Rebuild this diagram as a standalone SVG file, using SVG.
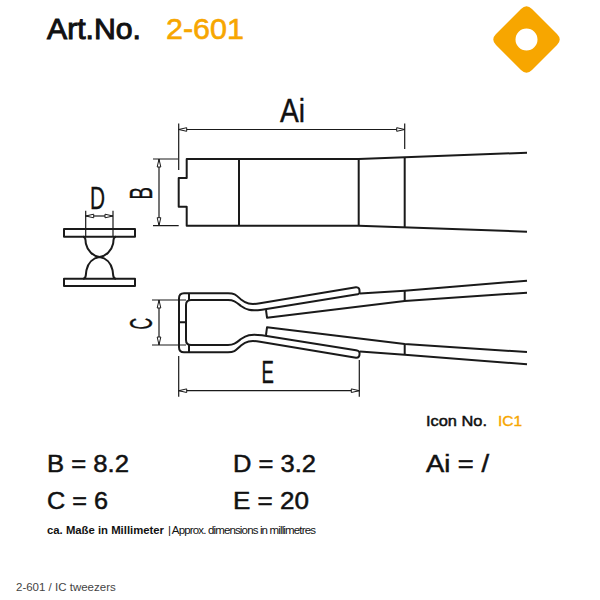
<svg xmlns="http://www.w3.org/2000/svg" width="600" height="600" viewBox="0 0 600 600">
<defs>
<marker id="ah" markerUnits="userSpaceOnUse" markerWidth="10" markerHeight="6" refX="9" refY="3" orient="auto-start-reverse"><path d="M1 1.2V4.8L9 3Z" fill="#fff" stroke="#1a1a1a" stroke-width="1"/></marker>
</defs>
<style>
text{font-family:"Liberation Sans",Arial,sans-serif;fill:#111}
.o{fill:#f7a600}
.b{font-weight:700}
.t{fill:none;stroke:#1a1a1a;stroke-width:2;stroke-linejoin:round}
.d{fill:none;stroke:#1a1a1a;stroke-width:1.2}
.v{font-size:23.500px;stroke:#111;stroke-width:.5}
.m{font-size:32px;stroke:#111;stroke-width:.4}
</style>
<rect width="600" height="600" fill="#fff"/>
<g id="header">
<text x="47" y="39" font-size="30" textLength="94" lengthAdjust="spacingAndGlyphs" style="stroke:#111;stroke-width:1">Art.No.</text>
<text class="o" x="166" y="39" font-size="30" textLength="78" lengthAdjust="spacingAndGlyphs" style="stroke:#f7a600;stroke-width:.6">2-601</text>
</g>
<g id="logo">
<path fill="#f7a600" fill-rule="evenodd" d="M521 9Q526.500 3.500 532 9L557 34Q562.500 39.500 557 45L532 70Q526.500 75.500 521 70L496 45Q490.500 39.500 496 34ZM515.500 39.500A11 11 0 1 0 537.500 39.500A11 11 0 1 0 515.500 39.500Z"/>
</g>
<g id="top-view">
<path class="t" d="M527 152.700L358.700 159H186.700V178H178.700V206.700H186.700V225.700H358.700L527 231.700"/>
<path class="t" d="M239 159V225.700M358.700 159V225.700M404.700 157.300V227.400"/>
</g>
<g id="cross-section">
<rect class="t" x="64" y="229" width="71" height="7.700"/>
<rect class="t" x="64" y="278.700" width="71" height="7.300"/>
<path class="t" d="M83 236.700C86.500 236.700 85 240 86 244C87.500 251 93 256 99.500 257C106 256 111.500 251 113 244C114 240 112.500 236.700 116 236.700"/>
<path class="t" d="M83 278.700C86.500 278.700 85.500 275 86.500 270C88 263 93 258 99.500 257C106 258 111 263 112.500 270C113.500 275 112.500 278.700 116 278.700"/>
</g>
<g id="open-view">
<path class="t" d="M360 293.500L404.700 290.700L527 280.700M356 287.200L260 303.300C250 305 246 303.500 241 299.500C236 295 235 293.300 228 293.300H184Q179 293.300 179 298.300V347.300Q179 352.300 184 352.300H228C235 352.300 236 350 241 345.500C246 341.500 250 340 260 341.700L356 357.800Q360 358 359.500 352.500Q359.300 351 356 350.300L262 335.300C250 333.500 246 335.500 241 339C236 343 234 345 228 345H191Q186 345 186 340V305Q186 300 191 300H228C234 300 236 302 241 306C246 309.500 250 311.500 262 309.700L356 294.500Q359.700 294 359.500 292.500Q360 287 356 287.200Z"/>
<path class="t" d="M266 310L267 317.700L404.700 301L527 292.700M266 335L267 327.300L404.700 344L527 352M360 351.500L404.700 354.700L527 364.300"/>
<path class="t" d="M404.700 290.700V301M404.700 344V354.700M189 293.300V300M189 345V352.300M179 322.300H186"/>
</g>
<g id="connectors">
<path class="d" d="M178.700 123.500V170M404.700 123.500V149"/>
<path class="d" d="M178.700 129.500H404.700" marker-start="url(#ah)" marker-end="url(#ah)"/>
<path class="d" d="M153 159H178M153 225.700H178.700"/>
<path class="d" d="M159 159V225.700" marker-start="url(#ah)" marker-end="url(#ah)"/>
<path class="d" d="M85.700 210.700V236M113 210.700V236"/>
<path class="d" d="M85.700 216H113" marker-start="url(#ah)" marker-end="url(#ah)"/>
<path class="d" d="M152 300H186M152 345H186"/>
<path class="d" d="M159 300V345" marker-start="url(#ah)" marker-end="url(#ah)"/>
<path class="d" d="M178.700 356V396.700M359.300 360V396.700"/>
<path class="d" d="M178.700 390.700H359.300" marker-start="url(#ah)" marker-end="url(#ah)"/>
</g>
<g id="dimension-labels">
<text class="m" style="font-size:34px" transform="translate(280 122.300) scale(.83 1)">Ai</text>
<text class="m" transform="translate(90 209) scale(.65 1)">D</text>
<text class="m" transform="translate(151.500 199.500) rotate(-90) scale(.58 1)">B</text>
<text class="m" transform="translate(151.500 329.500) rotate(-90) scale(.5 1)">C</text>
<text class="m" transform="translate(261.500 383) scale(.58 1)">E</text>
</g>
<g id="values">
<text x="426" y="426" font-size="15" textLength="61" lengthAdjust="spacingAndGlyphs" style="stroke:#111;stroke-width:.5">Icon No.</text>
<text class="o" x="498" y="426" font-size="15" textLength="24" lengthAdjust="spacingAndGlyphs" style="stroke:#f7a600;stroke-width:.4">IC1</text>
<text class="v" x="47" y="472.300" textLength="82" lengthAdjust="spacingAndGlyphs">B = 8.2</text>
<text class="v" x="233" y="472.300" textLength="83" lengthAdjust="spacingAndGlyphs">D = 3.2</text>
<text class="v" x="426" y="472.300" textLength="63" lengthAdjust="spacingAndGlyphs">Ai = /</text>
<text class="v" x="47" y="508.700" textLength="61" lengthAdjust="spacingAndGlyphs">C = 6</text>
<text class="v" x="233" y="508.700" textLength="76" lengthAdjust="spacingAndGlyphs">E = 20</text>
<text class="b" x="47" y="534" font-size="11.500" textLength="117" lengthAdjust="spacingAndGlyphs">ca. Maße in Millimeter</text>
<text x="168" y="534" font-size="11.500" textLength="148" lengthAdjust="spacing">| Approx. dimensions in millimetres</text>
<text x="16" y="591" font-size="11.500" style="fill:#444">2-601 / IC tweezers</text>
</g>
</svg>
